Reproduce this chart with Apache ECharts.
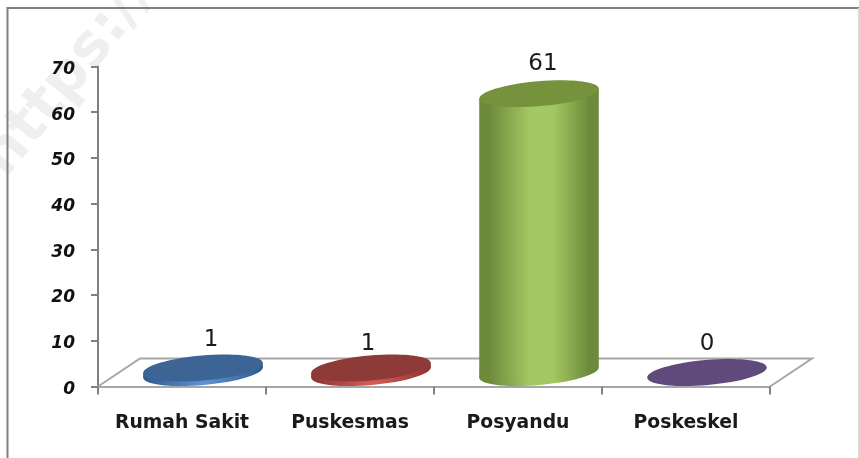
<!DOCTYPE html>
<html>
<head>
<meta charset="utf-8">
<style>html,body{margin:0;padding:0;background:#fff}#c{width:859px;height:458px}</style>
<script src="https://cdn.jsdelivr.net/npm/echarts@6/dist/echarts.min.js"></script>
</head>
<body>
<div id="c"></div>
<script>
const categories = ['Rumah Sakit', 'Puskesmas', 'Posyandu', 'Poskeskel'];
const values = [1, 1, 61, 0];
const tickMax = 70;
const tickStep = 10;
const watermark = 'https://';

const palettes = [
  {top: '#3c6494', edge: '#2f5a8c', light: '#5f93d6', mid: '#4f81bd'},
  {top: '#8e3a38', edge: '#8a3532', light: '#d85c58', mid: '#c0504d'},
  {top: '#76923c', edge: '#6d8a3a', light: '#a6c95f', mid: '#a3c763'},
  {top: '#604a7b', edge: '#604a7b', light: '#8064a2', mid: '#8064a2'}
];
const labelNudge = [[8, 0], [-3, 4], [4, -2], [0, 0]];
const depth = [42, -28];
const rx = 60, ry = 12.5, tilt = 5 * Math.PI / 180;
const ex = Math.sqrt(rx*rx*Math.cos(tilt)**2 + ry*ry*Math.sin(tilt)**2);
const tangent = (rx*rx - ry*ry) * Math.sin(tilt) * Math.cos(tilt) / ex;

function ell(cx, cy, fill, z) {
  return {type: 'ellipse', shape: {cx: cx, cy: cy, rx: rx, ry: ry},
    rotation: tilt, originX: cx, originY: cy, style: {fill: fill}, z2: z};
}
function cylinder(params, api) {
  const i = api.value(0), v = api.value(1);
  const base = api.coord([i, 0]), top = api.coord([i, v]);
  const cx = base[0] + depth[0] / 2, by = base[1] + depth[1] / 2, ty = top[1] + depth[1] / 2;
  const p = palettes[i];
  const side = new echarts.graphic.LinearGradient(0, 0, 1, 0, [
    {offset: 0, color: p.edge}, {offset: 0.08, color: p.edge},
    {offset: 0.42, color: p.mid}, {offset: 0.62, color: p.mid},
    {offset: 0.92, color: p.edge}, {offset: 1, color: p.edge}
  ]);
  const rim = new echarts.graphic.LinearGradient(0, 0, 1, 0, [
    {offset: 0, color: p.edge}, {offset: 0.5, color: p.light}, {offset: 1, color: p.edge}
  ]);
  const fill = v > 5 ? side : rim;
  const children = [];
  if (v > 0) {
    children.push(ell(cx, by, fill, 1));
    children.push({type: 'polygon', shape: {points: [
      [cx - ex, ty + tangent], [cx + ex, ty - tangent], [cx + ex, by - tangent], [cx - ex, by + tangent]
    ]}, style: {fill: fill}, z2: 2});
  }
  children.push(ell(cx, ty, p.top, 3));
  const n = labelNudge[i];
  children.push({type: 'text', x: cx + n[0], y: ty - 28 + n[1], z2: 4, style: {
    text: String(values[i]), fill: '#1a1a1a', align: 'center', verticalAlign: 'middle',
    font: '23px "DejaVu Sans"'
  }});
  return {type: 'group', children: children};
}
function floor(params, api) {
  const half = api.size([1, 0])[0] / 2;
  const a0 = api.coord([0, 0]), b0 = api.coord([categories.length - 1, 0]);
  const a = [a0[0] - half, a0[1]], b = [b0[0] + half, b0[1]];
  const line = {stroke: '#a6a6a6', lineWidth: 2, fill: null};
  return {type: 'polyline', shape: {points: [
    a, [a[0] + depth[0], a[1] + depth[1]], [b[0] + depth[0], b[1] + depth[1]], b
  ]}, style: line};
}

const chart = echarts.init(document.getElementById('c'), null, {renderer: 'canvas'});
chart.setOption({
  animation: false,
  backgroundColor: '#fff',
  graphic: [
    {type: 'text', x: 69, y: 77, rotation: 51 * Math.PI / 180, z: -10, silent: true,
      style: {text: watermark, fill: '#efefef', font: 'bold 58px "DejaVu Sans"', align: 'center', verticalAlign: 'middle'}},
    {type: 'polyline', shape: {points: [[7.5, 458], [7.5, 8], [859, 8]]}, style: {stroke: '#808080', lineWidth: 2, fill: null}, z: 20, silent: true},
    {type: 'line', shape: {x1: 858.5, y1: 8, x2: 858.5, y2: 458}, style: {stroke: '#dcdcdc', lineWidth: 1}, z: 20, silent: true}
  ],
  grid: {left: 98, top: 66.5, width: 672, height: 320},
  xAxis: {
    type: 'category', data: categories,
    axisLine: {lineStyle: {color: '#a6a6a6', width: 2}},
    axisTick: {show: true, interval: 0, alignWithLabel: false, length: 8, lineStyle: {color: '#808080', width: 2}},
    axisLabel: {interval: 0, hideOverlap: false, margin: 27, color: '#1a1a1a', fontFamily: 'DejaVu Sans', fontWeight: 'bold', fontSize: 18.8}
  },
  yAxis: {
    type: 'value', min: 0, max: tickMax, interval: tickStep,
    splitLine: {show: false},
    axisLine: {show: true, lineStyle: {color: '#808080', width: 2}},
    axisTick: {show: true, length: 7, lineStyle: {color: '#808080', width: 2}},
    axisLabel: {margin: 23, verticalAlign: 'top', lineHeight: 6, color: '#111', fontFamily: 'DejaVu Sans', fontStyle: 'italic', fontWeight: 'bold', fontSize: 17}
  },
  series: [
    {type: 'custom', coordinateSystem: 'cartesian2d', renderItem: floor, data: [[0, 0]], z: 1, silent: true, clip: false},
    {type: 'custom', coordinateSystem: 'cartesian2d', renderItem: cylinder,
      data: values.map((v, i) => [i, v]), z: 2, silent: true, clip: false}
  ]
});
</script>
</body>
</html>
